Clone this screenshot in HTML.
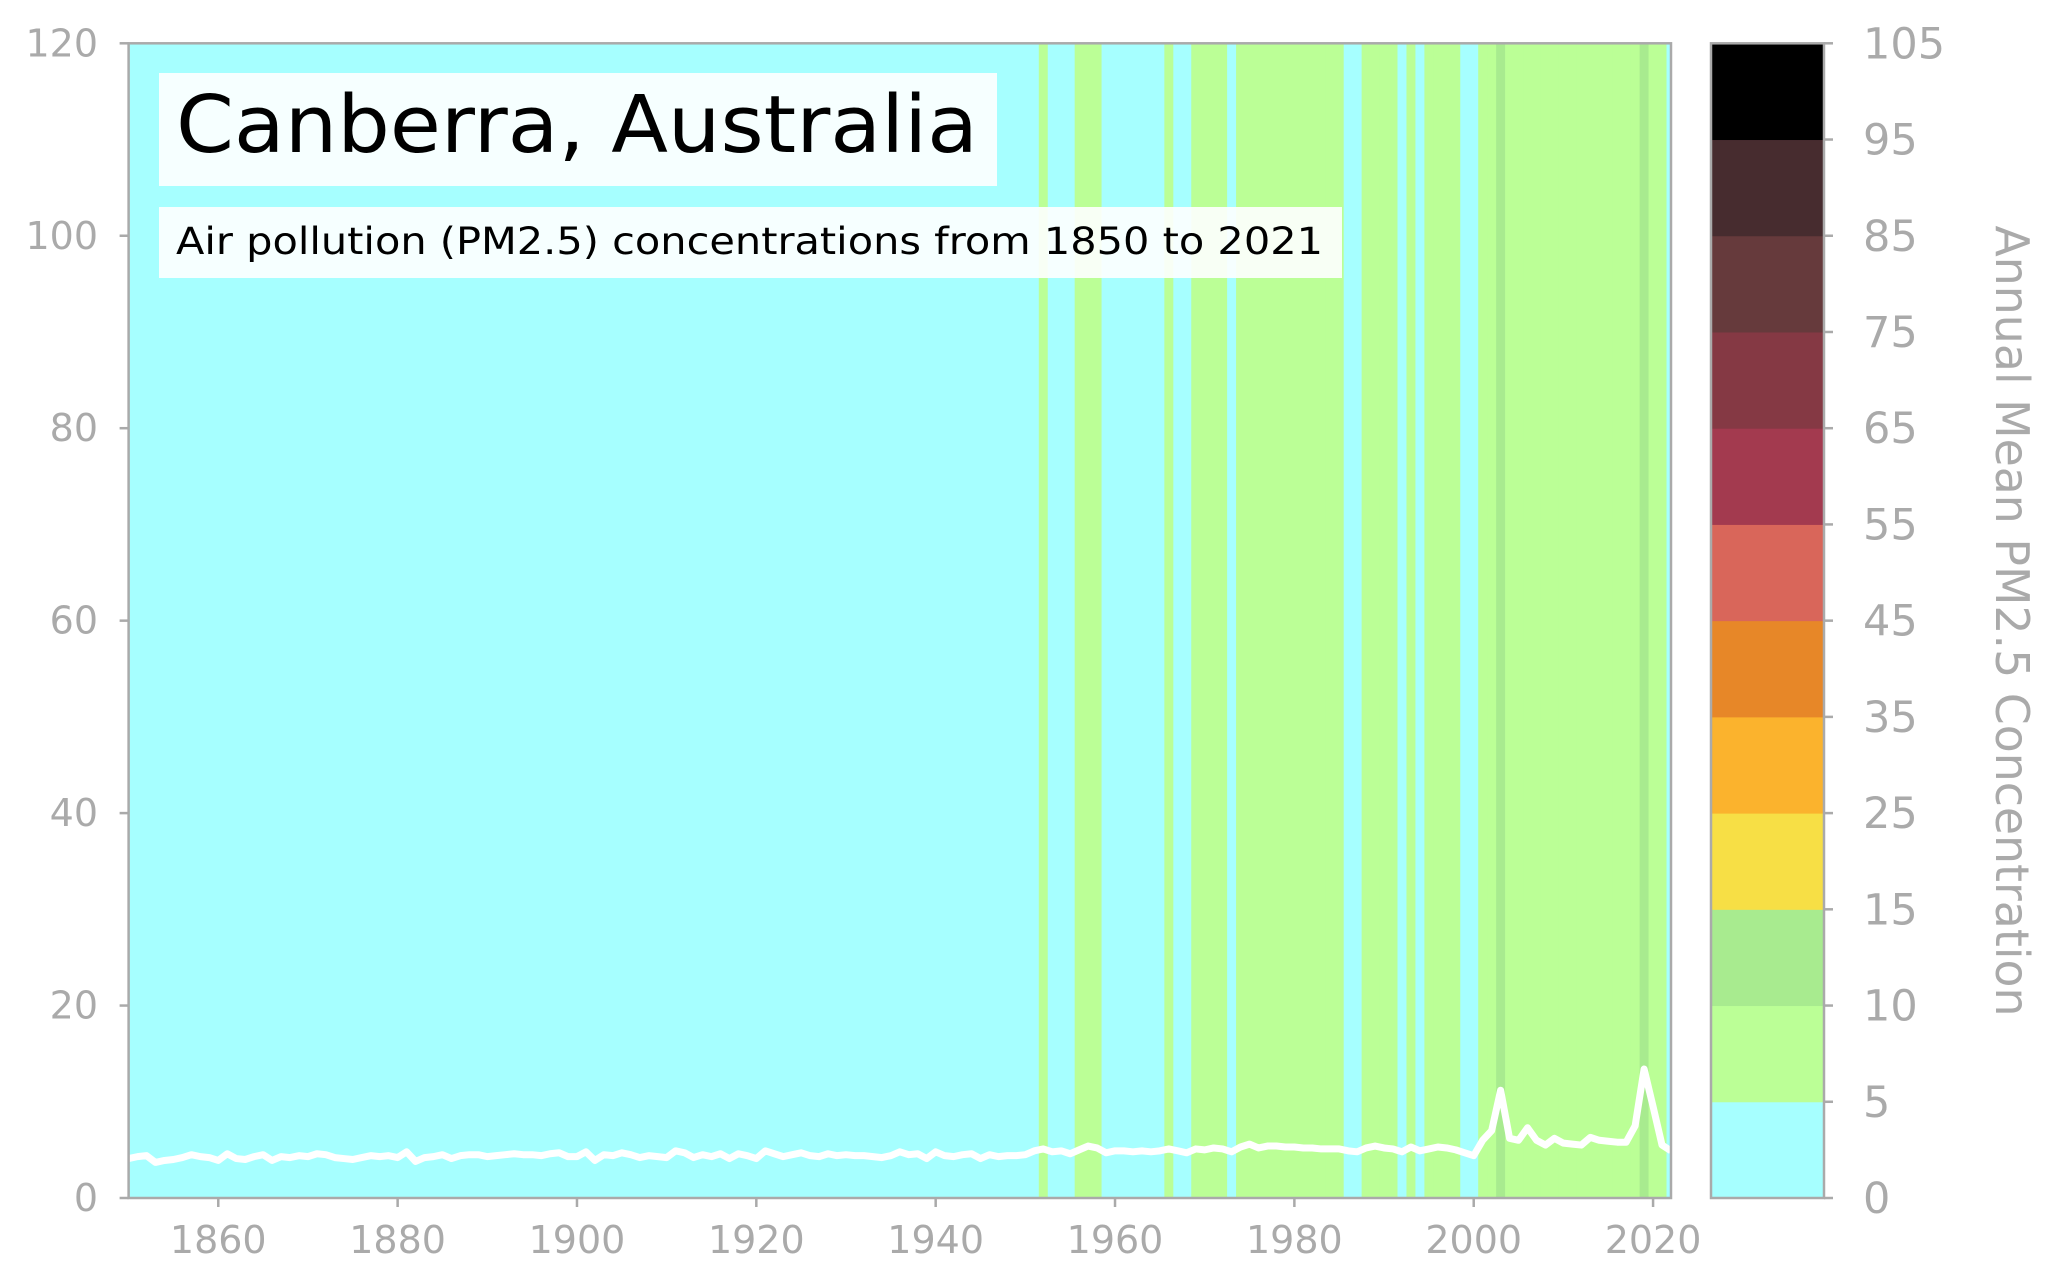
<!DOCTYPE html>
<html><head><meta charset="utf-8"><style>
html,body{margin:0;padding:0;background:#fff;}
svg{display:block;font-family:"DejaVu Sans","Liberation Sans",sans-serif;}
</style></head><body>
<svg id="chart" width="2057" height="1284" viewBox="0 0 2057 1284" xmlns="http://www.w3.org/2000/svg">
<defs><clipPath id="plotclip"><rect x="128.6" y="43.3" width="1542.4" height="1154.7"/></clipPath></defs>
<g id="stripes" clip-path="url(#plotclip)"></g>
<path id="line" fill="none" stroke="#fff" stroke-width="7" stroke-linejoin="round" clip-path="url(#plotclip)"/>
<rect x="128.6" y="43.3" width="1542.4" height="1154.7" fill="none" stroke="#aaa" stroke-width="2.5"/>
<g id="yticks"></g>
<g id="xticks"></g>
<g id="cbar"></g>
<rect x="159" y="73" width="838" height="113" fill="#fff" opacity="0.9"/>
<text x="176" y="152" font-size="79" fill="#000" textLength="802" lengthAdjust="spacingAndGlyphs">Canberra, Australia</text>
<rect x="159" y="207" width="1183" height="71" fill="#fff" opacity="0.9"/>
<text x="176" y="254" font-size="37" fill="#000" textLength="1147" lengthAdjust="spacingAndGlyphs">Air pollution (PM2.5) concentrations from 1850 to 2021</text>
<text transform="translate(1996,621) rotate(90)" text-anchor="middle" font-size="46" fill="#aaa" textLength="791" lengthAdjust="spacingAndGlyphs">Annual Mean PM2.5 Concentration</text>
</svg>
<script>
const startYear = 1850;
const values = [
4.1,4.3,4.4,3.7,3.9,4.0,4.2,4.5,4.3,4.2,
3.9,4.6,4.1,4.0,4.3,4.5,3.9,4.3,4.2,4.4,
4.3,4.6,4.5,4.2,4.1,4.0,4.2,4.4,4.3,4.4,
4.2,4.8,3.8,4.2,4.3,4.5,4.1,4.4,4.5,4.5,
4.3,4.4,4.5,4.6,4.5,4.5,4.4,4.6,4.7,4.3,
4.3,4.8,3.9,4.5,4.4,4.7,4.5,4.2,4.4,4.3,
4.2,4.9,4.7,4.2,4.5,4.3,4.6,4.1,4.6,4.4,
4.1,4.9,4.6,4.3,4.5,4.7,4.4,4.3,4.6,4.4,
4.5,4.4,4.4,4.3,4.2,4.4,4.8,4.5,4.6,4.1,
4.8,4.4,4.3,4.5,4.6,4.1,4.5,4.3,4.4,4.4,
4.5,4.9,5.1,4.8,4.9,4.6,5.0,5.4,5.2,4.7,
4.9,4.9,4.8,4.9,4.8,4.9,5.1,4.9,4.7,5.1,
5.0,5.2,5.1,4.8,5.3,5.6,5.2,5.4,5.4,5.3,
5.3,5.2,5.2,5.1,5.1,5.1,4.9,4.8,5.2,5.4,
5.2,5.1,4.8,5.3,4.9,5.1,5.3,5.2,5.0,4.7,
4.4,6.0,7.0,11.2,6.2,6.0,7.3,6.0,5.5,6.2,
5.7,5.6,5.5,6.3,6.0,5.9,5.8,5.8,7.5,13.4,9.5,5.5,4.9];
const yTicks = [0,20,40,60,80,100,120];
const xTicks = [1860,1880,1900,1920,1940,1960,1980,2000,2020];
const levels = [0,5,10,15,25,35,45,55,65,75,85,95,105];
const levelColors = ["#a6ffff","#bbff96","#a8eb8f","#f7df45","#fbb32d","#e78728","#d9665a","#a33a4f","#853944","#663a3c","#472c2f","#000000"];

const NS="http://www.w3.org/2000/svg";
const L=128.6,R=1671,T=43.3,B=1198;
const x0=1850,x1=2022;
const xs=v=>L+(v-x0)/(x1-x0)*(R-L);
const ys=v=>B-v/120*(B-T);
function mk(tag,attrs,parent){const e=document.createElementNS(NS,tag);for(const k in attrs)e.setAttribute(k,attrs[k]);parent.appendChild(e);return e;}
function colorFor(v){for(let i=levels.length-2;i>=0;i--){if(v>=levels[i])return levelColors[i];}return levelColors[0];}

const stripes=document.getElementById('stripes');
values.forEach((v,i)=>{
  const yr=startYear+i;
  const r=mk('rect',{x:xs(yr-0.5),y:T,width:xs(yr+0.5)-xs(yr-0.5)+0.6,height:B-T,fill:colorFor(v)},stripes);
  
  
});
let d='';
values.forEach((v,i)=>{d+=(i?'L':'M')+xs(startYear+i).toFixed(2)+','+ys(v).toFixed(2);});
document.getElementById('line').setAttribute('d',d);

const yg=document.getElementById('yticks');
yTicks.forEach(t=>{
  const ln=mk('line',{x1:L-9,x2:L,y1:ys(t),y2:ys(t),stroke:'#aaa','stroke-width':2.5},yg);
  
  
  const tx=mk('text',{x:98,y:ys(t)+13,'text-anchor':'end','font-size':38,fill:'#aaa'},yg);
  tx.textContent=t;
  
  
});
const xg=document.getElementById('xticks');
xTicks.forEach(t=>{
  const ln=mk('line',{x1:xs(t),x2:xs(t),y1:B,y2:B+9,stroke:'#aaa','stroke-width':2.5},xg);
  
  
  const tx=mk('text',{x:xs(t),y:1253,'text-anchor':'middle','font-size':38,fill:'#aaa'},xg);
  tx.textContent=t;
  
  
});
const cg=document.getElementById('cbar');
const CL=1711,CR=1824,n=levels.length-1,h=(B-T)/n;
levelColors.forEach((c,i)=>{
  const r=mk('rect',{x:CL,y:B-(i+1)*h,width:CR-CL,height:h+0.5,fill:c},cg);
  
  
});
const fr=mk('rect',{x:CL,y:T,width:CR-CL,height:B-T,fill:'none',stroke:'#aaa','stroke-width':2.5},cg);


levels.forEach((lv,i)=>{
  const y=B-i*h;
  const ln=mk('line',{x1:CR,x2:CR+9,y1:y,y2:y,stroke:'#aaa','stroke-width':2.5},cg);
  
  
  const tx=mk('text',{x:1863,y:y+15,'font-size':43,fill:'#aaa'},cg);
  tx.textContent=lv;
  
  
});
</script>
</body></html>
